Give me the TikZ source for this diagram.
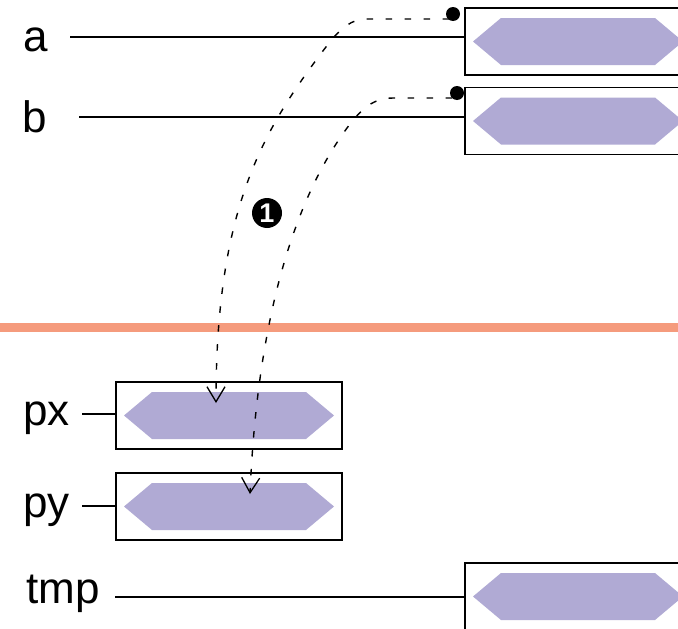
\documentclass[tikz,border=0pt]{standalone}
\usepackage{fontspec}
\setmainfont{Liberation Sans}
\usetikzlibrary{arrows.meta}
\definecolor{hexfill}{RGB}{176,170,212}
\definecolor{bandcol}{RGB}{245,155,125}
\begin{document}
\begin{tikzpicture}[x=1pt,y=-1pt,
  lbl/.style={anchor=base west, inner sep=0pt, font=\fontsize{44}{48}\selectfont},
  regbox/.style={draw=black, line width=1.3pt, minimum width=226pt, minimum height=67pt, inner sep=0pt, outer sep=0pt},
  wire/.style={draw=black, line width=1.3pt},
  flow/.style={draw=black, line width=1.4pt, dash pattern=on 6.5pt off 12.5pt, -{Straight Barb[length=15pt,width=18pt,line width=1.3pt]}},
  dotnode/.style={circle, fill=black, minimum size=14pt, inner sep=0pt},
  stepmark/.style={circle, fill=black, minimum size=30pt, inner sep=0pt, text=white, font=\fontsize{27}{27}\selectfont\bfseries},
  hexshape/.pic={\fill[hexfill] (-105,0) -- (-77,-23.5) -- (77,-23.5) -- (105,0) -- (77,23.5) -- (-77,23.5) -- cycle;}
]
\useasboundingbox (0,0) rectangle (678,629);
\clip (0,0) rectangle (678,629);
\fill[white] (0,0) rectangle (678,629);

% boxes
\node[regbox] (boxa) at (578,41.5) {};
\node[regbox] (boxb) at (578,121) {};
\node[regbox] (boxpx) at (229,415.5) {};
\node[regbox] (boxpy) at (229,506.5) {};
\node[regbox] (boxtmp) at (578,596.5) {};
\pic at (boxa.center) {hexshape};
\pic at (boxb.center) {hexshape};
\pic at (boxpx.center) {hexshape};
\pic at (boxpy.center) {hexshape};
\pic at (boxtmp.center) {hexshape};

% labels
\node[lbl] (la) at (23,51) {a};
\node[lbl] (lb) at (22,132) {b};
\node[lbl] (lpx) at (23,425) {px};
\node[lbl] (lpy) at (23,517) {py};
\node[lbl] (ltmp) at (26,603) {tmp};

% wires
\coordinate (wa) at (70,37);
\coordinate (wb) at (79,117);
\coordinate (wpx) at (82,414);
\coordinate (wpy) at (82,506);
\coordinate (wtmp) at (115,597);
\draw[wire] (wa) -- (wa -| boxa.west);
\draw[wire] (wb) -- (wb -| boxb.west);
\draw[wire] (wpx) -- (wpx -| boxpx.west);
\draw[wire] (wpy) -- (wpy -| boxpy.west);
\draw[wire] (wtmp) -- (wtmp -| boxtmp.west);

% separator band
\fill[bandcol] (0,323) rectangle (678,332);

% dots and flows
\node[dotnode] (da) at (453,14) {};
\node[dotnode] (db) at (457,93) {};
\coordinate (sa) at (449,19);
\coordinate (sb) at (452,98);
\coordinate (ta) at (216,403);
\coordinate (tb) at (250,494);
\draw[flow] (sa) -- (366,19) .. controls (352,19) and (341,28) .. (329,43)
  .. controls (264,128) and (216,205) .. (ta);
\draw[flow] (sb) -- (394,98) .. controls (376,98) and (365,105) .. (350,124)
  .. controls (290,203) and (257,330) .. (tb);

\node[stepmark] (one) at (267,213) {1};
\end{tikzpicture}
\end{document}
